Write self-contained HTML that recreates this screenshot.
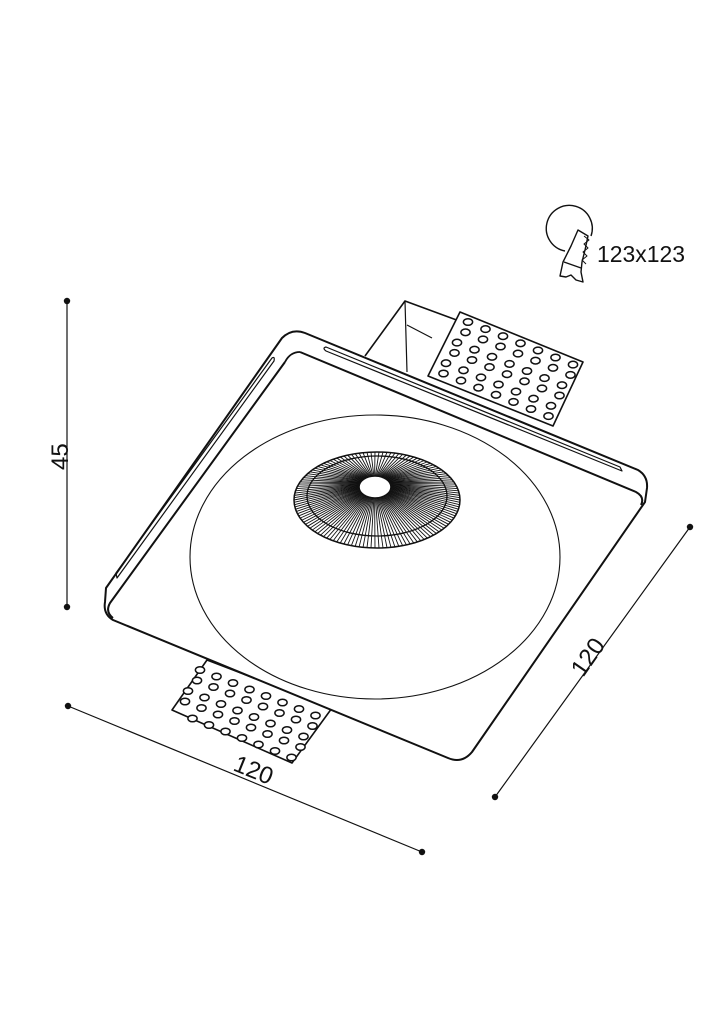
<!DOCTYPE html>
<html><head><meta charset="utf-8"><style>
html,body{margin:0;padding:0;background:#fff;}
svg{display:block}
text{font-family:"Liberation Sans",sans-serif;fill:#111}
</style></head><body>
<svg id="s" width="723" height="1024" viewBox="0 0 723 1024" xmlns="http://www.w3.org/2000/svg" stroke="#111" fill="none" stroke-width="1.6" stroke-linejoin="round">
<!-- back box -->
<path d="M365,356 L405,301 L462,322" />
<path d="M405,301 L407,372 M407,325 L432,338" stroke-width="1.2"/>
<!-- top perforated plate -->
<path id="tp" d="M460,312 L583,362 L553,426 L428,376 Z" fill="#fff"/>
<g id="tholes" stroke-width="1.5"></g>
<!-- bottom perforated plate -->
<path d="M207,660 L332,708 L292,763 L172,710 Z" fill="#fff"/>
<g id="bholes" stroke-width="1.5"></g>
<!-- plate body -->
<path d="M282,338 Q292,328 305,333 L638,470 Q648,476 647,488 L645,502 L472,752 Q462,764 448,758 L113,620 Q103,614 105,602 L106,588 Z" fill="#fff" stroke-width="2"/>
<path d="M300,352 Q290,352 285,362" stroke-width="1.8"/>
<path d="M300,352 L636,492 Q645,497 641,505" stroke-width="2"/>
<path d="M285,362 L110,603 Q105,612 113,618" stroke-width="2"/>
<!-- slots -->
<path d="M326,347 L620,467 L622,471 L326,351 Q322,348 326,347 Z" stroke-width="1.2"/>
<path d="M272,358 L116,573 L117,578 L274,361 Q275,356 272,358 Z" stroke-width="1.2"/>
<!-- big ellipse -->
<ellipse cx="375" cy="557" rx="185" ry="142" stroke-width="1.1"/>
<!-- rosette -->
<g id="ros" stroke-width="0.9"></g>
<ellipse cx="377" cy="500" rx="83" ry="48" stroke-width="1.5"/>
<ellipse cx="377" cy="496" rx="70" ry="40" stroke-width="1.3"/>
<ellipse cx="375" cy="487" rx="16" ry="11" fill="#fff" stroke-width="1.6"/>
<!-- dimensions -->
<g fill="#111" stroke="none">
<circle cx="67" cy="301" r="3.2"/><circle cx="67" cy="607" r="3.2"/>
<circle cx="68" cy="706" r="3.2"/><circle cx="422" cy="852" r="3.2"/>
<circle cx="690" cy="527" r="3.2"/><circle cx="495" cy="797" r="3.2"/>
</g>
<path d="M67,301 L67,607 M68,706 L422,852 M690,527 L495,797" stroke-width="1.2"/>
<text x="0" y="0" font-size="24" stroke="none" transform="translate(68,470) rotate(-90)">45</text>
<text x="0" y="0" font-size="24" stroke="none" transform="translate(232,770) rotate(22)">120</text>
<text x="0" y="0" font-size="24" stroke="none" transform="translate(583,678) rotate(-55)">120</text>
<!-- saw icon -->
<path d="M565,251 A23,23 0 1 1 591,236" stroke-width="1.4"/>
<path d="M578,230 L588,236 L585,250 L582,262 L581,272 L583,282 L576,280 L571,275 L566,277 L560,276 L563,262 L571,246 Z" fill="#fff" stroke-width="1.4"/>
<path d="M584,236 L589,240 L584,244 L588,248 L583,252 L587,256 L582,260 L586,264" stroke-width="1"/>
<path d="M564,262 L581,268" stroke-width="1.3"/>
<text x="597" y="262" font-size="23" stroke="none" textLength="88" lengthAdjust="spacingAndGlyphs">123x123</text>
</svg>
<script>
var NS="http://www.w3.org/2000/svg";
function el(p,t,a){var e=document.createElementNS(NS,t);for(var k in a)e.setAttribute(k,a[k]);p.appendChild(e);return e;}
var th=document.getElementById('tholes');
for(var i=0;i<7;i++)for(var j=0;j<6;j++){
 var x=468+i*17.5-j*5.5+ (j%2)*3, y=322+i*7.1+j*10.3;
 if(x<575&&y<420) el(th,'ellipse',{cx:x,cy:y,rx:4.6,ry:3.3,fill:'#fff'});
}
var bh=document.getElementById('bholes');
for(var i=0;i<8;i++)for(var j=0;j<5;j++){
 var x=200+i*16.5-j*6+(j%2)*3, y=670+i*6.5+j*10.5;
 if(x>176&&x<325&&y<758) el(bh,'ellipse',{cx:x,cy:y,rx:4.6,ry:3.3,fill:'#fff'});
}
var r=document.getElementById('ros');
for(var k=0;k<130;k++){var a=k/130*2*Math.PI,c=Math.cos(a),s=Math.sin(a);
 el(r,'line',{x1:375+16*c,y1:487+11*s,x2:377+83*c,y2:500+48*s});}
</script>
</body></html>
